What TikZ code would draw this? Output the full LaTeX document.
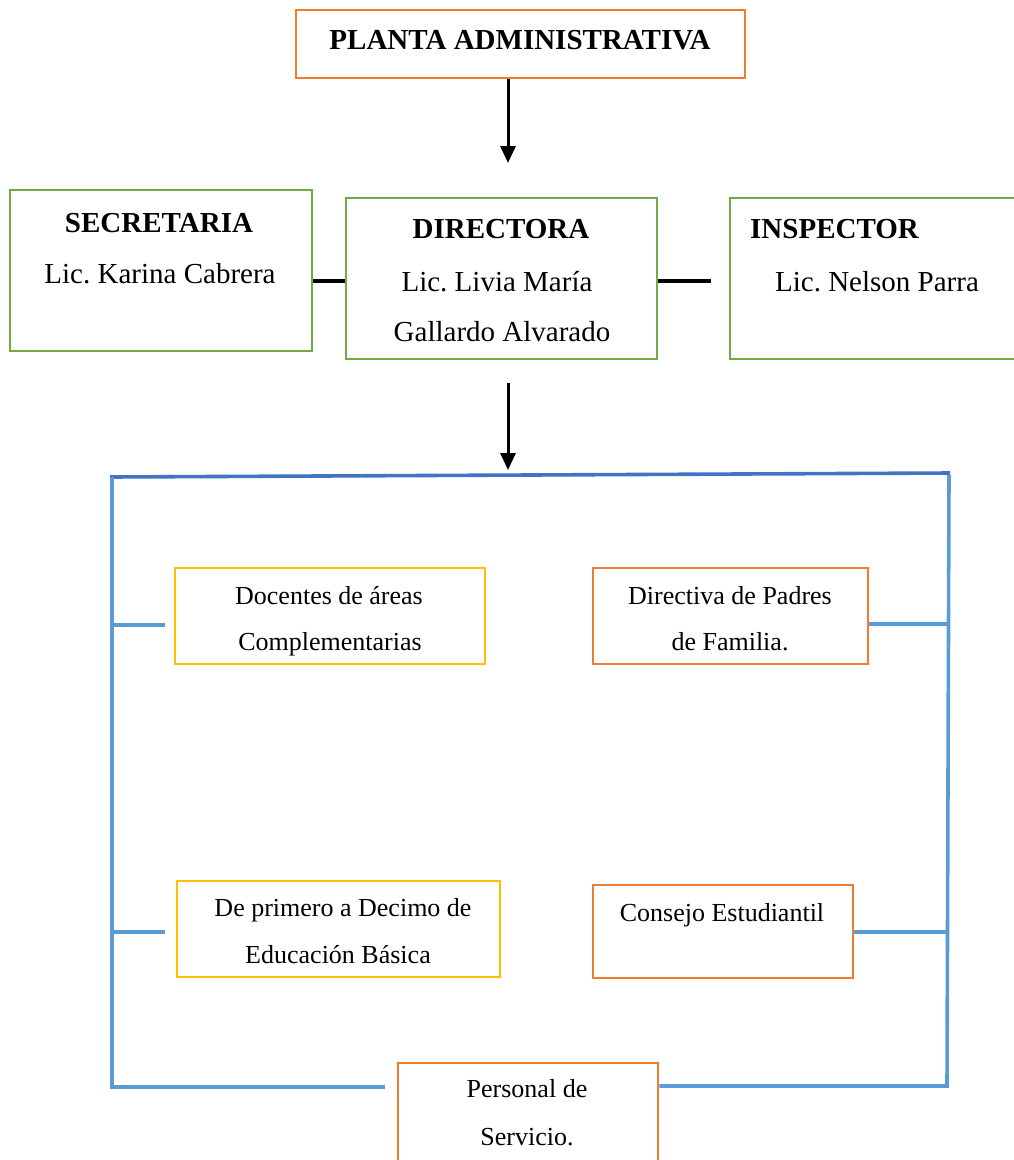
\documentclass[tikz,border=0pt]{standalone}
\usepackage{fontspec}
\setmainfont{Liberation Serif}
\usetikzlibrary{arrows.meta}
\frenchspacing
\definecolor{cOrange}{HTML}{ED7D31}
\definecolor{cGreen}{HTML}{70AD47}
\definecolor{cYellow}{HTML}{FFC000}
\definecolor{cBlue}{HTML}{5B9BD5}
\definecolor{cDBlue}{HTML}{4472C4}
\tikzset{
  boxbase/.style={draw, line width=2.6pt, inner sep=0pt, fill=white},
  obox/.style={boxbase, draw=cOrange},
  gbox/.style={boxbase, draw=cGreen},
  ybox/.style={boxbase, draw=cYellow},
  bigtxt/.style={font=\fontsize{29}{33}\selectfont, anchor=base, inner sep=0pt},
  bigbold/.style={font=\fontsize{29}{33}\selectfont\bfseries, anchor=base, inner sep=0pt},
  smalltxt/.style={font=\fontsize{26}{30}\selectfont, anchor=base, inner sep=0pt},
  blk/.style={line width=3.6pt, black},
  arr/.style={line width=3pt, black, -{Triangle[width=15pt,length=17pt]}},
  bline/.style={line width=3.6pt, cBlue},
  dbline/.style={line width=3.6pt, cDBlue}
}
\begin{document}
\begin{tikzpicture}[x=1pt,y=-1pt]
\useasboundingbox (0,0) rectangle (1014,1160);
% boxes
\node[obox, minimum width=449pt, minimum height=68pt] (title) at (520.5,44) {};
\node[gbox, minimum width=302pt, minimum height=161pt] (sec) at (161,270.5) {};
\node[gbox, minimum width=311pt, minimum height=161pt] (dir) at (501.5,278.5) {};
\node[gbox, minimum width=300pt, minimum height=161pt] (insp) at (880,278.5) {};
\node[ybox, minimum width=310pt, minimum height=96pt] (doc) at (330,616) {};
\node[obox, minimum width=275pt, minimum height=96pt] (padres) at (730.5,616) {};
\node[ybox, minimum width=323pt, minimum height=96pt] (prim) at (338.5,929) {};
\node[obox, minimum width=260pt, minimum height=93pt] (cons) at (723,931.5) {};
\node[obox, minimum width=260pt, minimum height=112pt] (pers) at (528,1119) {};
% texts
\node[bigbold] (tTitle) at (520,49) {PLANTA ADMINISTRATIVA};
\node[bigbold] (tSec) at (159,232) {SECRETARIA};
\node[bigtxt] (tSec2) at (160,283) {Lic. Karina Cabrera};
\node[bigbold] (tDir) at (501,238) {DIRECTORA};
\node[bigtxt] (tDir2) at (497,291) {Lic. Livia María};
\node[bigtxt] (tDir3) at (502,341) {Gallardo Alvarado};
\node[bigbold, anchor=base west] (tIns) at (750,238) {INSPECTOR};
\node[bigtxt] (tIns2) at (877,291) {Lic. Nelson Parra};
\node[smalltxt] (tDoc) at (329,604) {Docentes de áreas};
\node[smalltxt] (tDoc2) at (330,650) {Complementarias};
\node[smalltxt] (tPad) at (730,604) {Directiva de Padres};
\node[smalltxt] (tPad2) at (730,650) {de Familia.};
\node[smalltxt] (tPri) at (343,916) {De primero a Decimo de};
\node[smalltxt] (tPri2) at (338,963) {Educación Básica};
\node[smalltxt] (tCon) at (722,921) {Consejo Estudiantil};
\node[smalltxt] (tPer) at (527,1097) {Personal de};
\node[smalltxt] (tPer2) at (527,1145) {Servicio.};
% coordinates
\coordinate (a1) at (508,163);
\coordinate (a2s) at (508,383);
\coordinate (a2) at (508,470);
\coordinate (lk) at (0,281);
\coordinate (lkend) at (711,281);
\coordinate (TL) at (110,477);
\coordinate (TR) at (950,473);
\coordinate (LT) at (112,477);
\coordinate (LB) at (112,1087);
\coordinate (LBend) at (385,1087);
\coordinate (RT) at (949,475);
\coordinate (RB) at (947,1086);
\coordinate (L1) at (112,625);
\coordinate (L1e) at (165,625);
\coordinate (L2) at (112,932);
\coordinate (L2e) at (165,932);
\coordinate (R1) at (948,624);
\coordinate (R2) at (948,932);
% connectors
\draw[arr] (title.south -| a1) -- (a1);
\draw[blk] (sec.east |- lk) -- (dir.west |- lk);
\draw[blk] (dir.east |- lk) -- (lkend);
\draw[arr] (a2s) -- (a2);
\draw[dbline] (TL) -- (TR);
\draw[bline] (LT) -- (LB) -- (LBend);
\draw[bline] (RT) -- (RB) -- (pers.east |- RB);
\draw[bline] (L1) -- (L1e);
\draw[bline] (L2) -- (L2e);
\draw[bline] (padres.east |- R1) -- (R1);
\draw[bline] (cons.east |- R2) -- (R2);
\end{tikzpicture}
\end{document}
